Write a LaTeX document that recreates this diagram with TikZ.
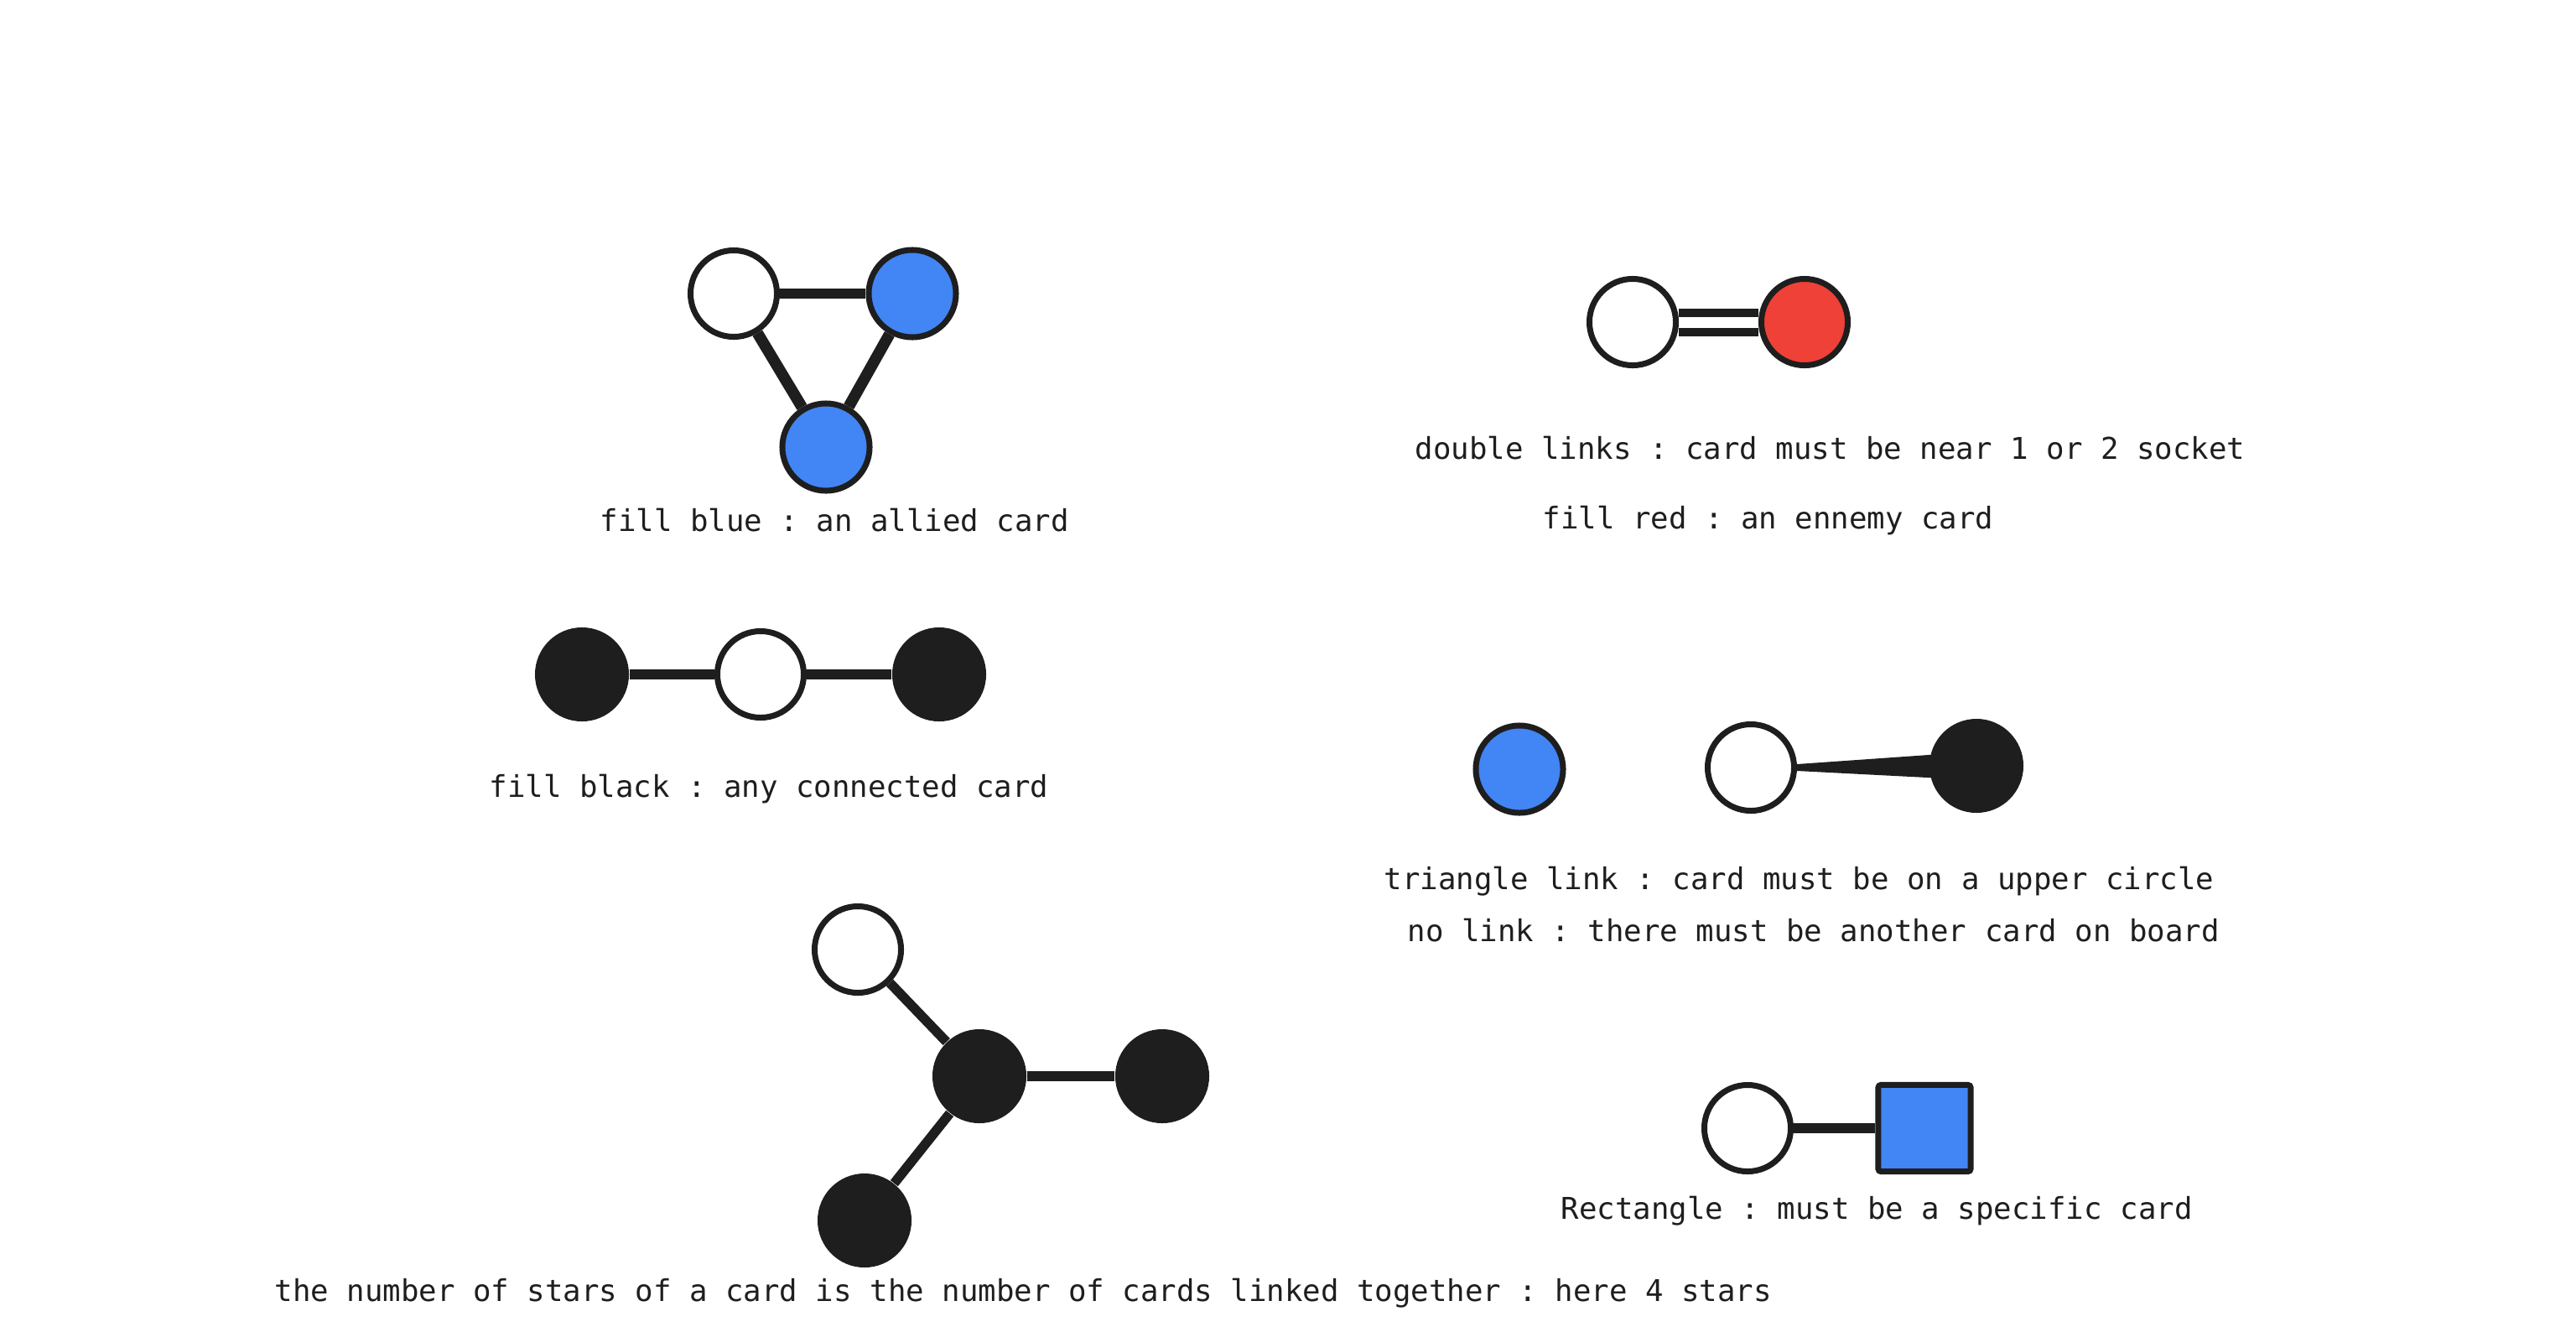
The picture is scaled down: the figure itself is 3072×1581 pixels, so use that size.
\documentclass[tikz,border=0pt]{standalone}
\usepackage{fontspec}
\setmonofont{DejaVu Sans Mono}
\usetikzlibrary{calc}
\definecolor{ink}{HTML}{1E1E1E}
\definecolor{cardblue}{HTML}{4285F4}
\definecolor{cardred}{HTML}{EF4137}
\tikzset{
  empty/.style={circle, draw=ink, fill=white, line width=0.7mm, inner sep=0pt, minimum size=10.3mm},
  ally/.style={circle, draw=ink, fill=cardblue, line width=0.7mm, inner sep=0pt, minimum size=10.4mm},
  enemy/.style={circle, draw=ink, fill=cardred, line width=0.7mm, inner sep=0pt, minimum size=10.3mm},
  anycard/.style={circle, fill=ink, draw=none, inner sep=0pt, minimum size=11.2mm},
  specific/.style={rectangle, draw=ink, fill=cardblue, line width=0.7mm, inner sep=0pt, minimum width=11mm, minimum height=10.3mm, rounded corners=0.3mm},
  link/.style={draw=ink, line width=1.15mm},
  thicklink/.style={draw=ink, line width=1.35mm},
  dlink/.style={draw=ink, line width=1.0mm, double=white, double distance=1.3mm},
  label/.style={anchor=base west, inner sep=0pt, text=ink, font=\ttfamily\fontsize{10.16pt}{12pt}\selectfont}
}
\begin{document}
\begin{tikzpicture}[x=0.01cm, y=-0.01cm]
\useasboundingbox (0,0) rectangle (3072,1581);
\fill[white] (0,0) rectangle (3072,1581);

% allied group
\node[empty] (a1) at (875,350) {};
\node[ally] (a2) at (1088,350) {};
\node[ally] (a3) at (985,533) {};
\draw[link] (a1) -- (a2);
\draw[thicklink] (a1) -- (a3);
\draw[thicklink] (a2) -- (a3);
\node[label] (t1) at (715,633) {fill blue : an allied card};

% double link group
\node[empty] (d1) at (1947,384) {};
\node[enemy] (d2) at (2152,384) {};
\draw[dlink] (d1) -- (d2);
\node[label] (t2) at (1687,547) {double links : card must be near 1 or 2 socket};
\node[label] (t3) at (1839,630) {fill red : an ennemy card};

% black row
\node[anycard] (b1) at (694,804) {};
\node[empty] (b2) at (907,804) {};
\node[anycard] (b3) at (1120,804) {};
\draw[link] (b1) -- (b2);
\draw[link] (b2) -- (b3);
\node[label] (t4) at (583,950) {fill black : any connected card};

% triangle link / no link
\node[ally] (n1) at (1812,917) {};
\node[empty] (n2) at (2088,915) {};
\node[anycard] (n3) at (2357,913) {};
\fill[ink] ($(n2.east)+(0,-4)$) -- ($(n3.center)+(0,-17)$) -- ($(n3.center)+(0,17)$) -- ($(n2.east)+(0,4)$) -- cycle;
\node[label] (t5) at (1650,1060) {triangle link : card must be on a upper circle};
\node[label] (t6) at (1678,1122) {no link : there must be another card on board};

% star group
\node[empty] (s1) at (1023,1132) {};
\node[anycard] (s2) at (1168,1283) {};
\node[anycard] (s3) at (1386,1283) {};
\node[anycard] (s4) at (1031,1455) {};
\draw[link] (s1) -- (s2);
\draw[link] (s2) -- (s3);
\draw[link] (s2) -- (s4);
\node[label] (t8) at (327,1551) {the number of stars of a card is the number of cards linked together : here 4 stars};

% rectangle group
\node[empty] (r1) at (2084,1345) {};
\node[specific] (r2) at (2295,1345) {};
\draw[link] (r1) -- (r2);
\node[label] (t7) at (1861,1453) {Rectangle : must be a specific card};
\end{tikzpicture}
\end{document}
